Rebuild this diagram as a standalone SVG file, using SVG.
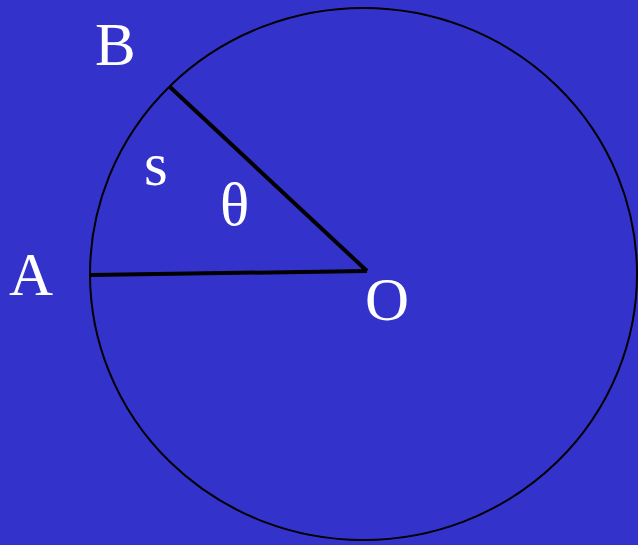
<svg xmlns="http://www.w3.org/2000/svg" width="638" height="545" viewBox="0 0 638 545">
<style>
.lbl{font-family:"Liberation Serif","Times New Roman",serif;font-size:61px;fill:#ffffff}
.thin{fill:none;stroke:#000;stroke-width:2}
.rad{stroke:#000;stroke-width:4;stroke-linecap:butt}
</style>
<rect width="638" height="545" fill="#3333cc"/>
<g id="circle"><ellipse class="thin" cx="363.5" cy="274" rx="273.5" ry="266"/></g>
<g id="connectors">
<line class="rad" x1="90" y1="275" x2="367" y2="271"/>
<line class="rad" x1="170" y1="87" x2="367" y2="271"/>
</g>
<g id="B"><text class="lbl" x="95" y="65">B</text></g>
<g id="A"><text class="lbl" x="9" y="295">A</text></g>
<g id="O"><text class="lbl" x="365" y="320">O</text></g>
<g id="s"><text class="lbl" x="144" y="185">s</text></g>
<g id="theta"><text class="lbl" x="220" y="225">θ</text></g>
</svg>
